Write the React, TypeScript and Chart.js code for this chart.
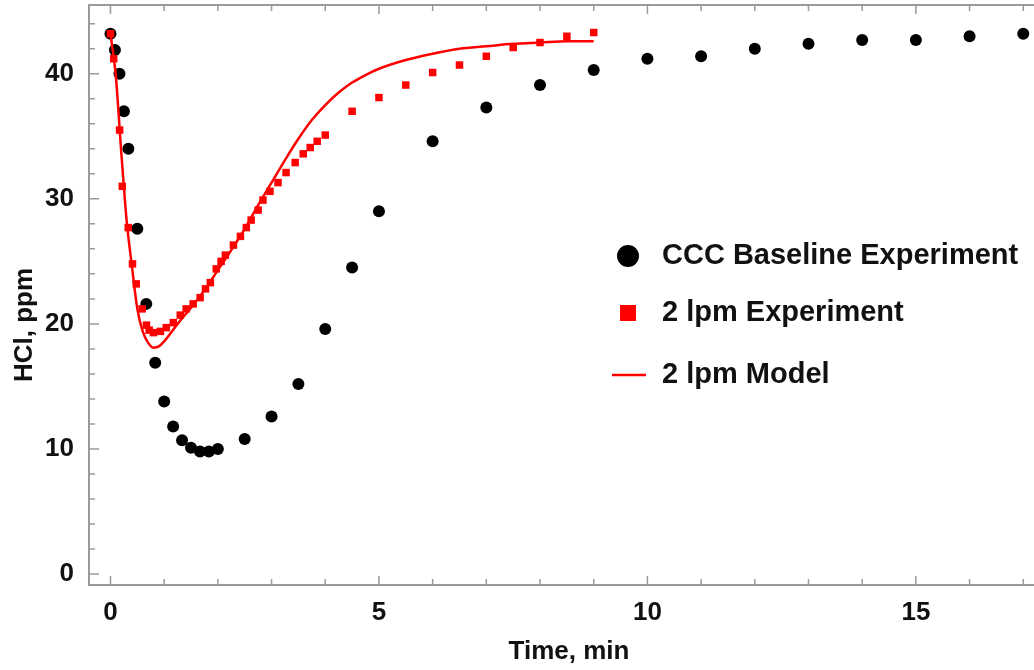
import React, { useEffect, useRef } from "react";
import { Chart, registerables } from "chart.js";

Chart.register(...registerables);

// ---- data ----
const baselineTime = [0, 0.083, 0.167, 0.25, 0.333, 0.5, 0.667, 0.833, 1, 1.167, 1.333, 1.5, 1.667, 1.833, 2, 2.5, 3, 3.5, 4, 4.5, 5, 6, 7, 8, 9, 10, 11, 12, 13, 14, 15, 16, 17];
const baselineHCl = [43.2, 41.9, 40.0, 37.0, 34.0, 27.6, 21.6, 16.9, 13.8, 11.8, 10.7, 10.1, 9.8, 9.8, 10.0, 10.8, 12.6, 15.2, 19.6, 24.5, 29.0, 34.6, 37.3, 39.1, 40.3, 41.2, 41.4, 42.0, 42.4, 42.7, 42.7, 43.0, 43.2];

const lpmTime = [0, 0.06, 0.17, 0.22, 0.33, 0.41, 0.48, 0.59, 0.67, 0.72, 0.8, 0.93, 1.04, 1.17, 1.3, 1.41, 1.54, 1.67, 1.77, 1.86, 1.97, 2.06, 2.14, 2.29, 2.42, 2.53, 2.62, 2.75, 2.84, 2.97, 3.12, 3.27, 3.44, 3.59, 3.72, 3.85, 4.0, 4.5, 5, 5.5, 6, 6.5, 7, 7.5, 8, 8.5, 9];
const lpmHCl = [43.2, 41.2, 35.5, 31.0, 27.7, 24.8, 23.2, 21.2, 19.9, 19.5, 19.3, 19.4, 19.7, 20.1, 20.7, 21.2, 21.6, 22.1, 22.8, 23.3, 24.4, 25.0, 25.5, 26.3, 27.0, 27.7, 28.3, 29.1, 29.9, 30.6, 31.3, 32.1, 32.9, 33.6, 34.1, 34.6, 35.1, 37.0, 38.1, 39.1, 40.1, 40.7, 41.4, 42.1, 42.5, 43.0, 43.3];

const modelTime = [0, 0.1, 0.2, 0.3, 0.4, 0.5, 0.6, 0.7, 0.8, 0.9, 1.0, 1.25, 1.5, 1.75, 2.0, 2.25, 2.5, 2.75, 3.0, 3.25, 3.5, 3.75, 4.0, 4.25, 4.5, 4.75, 5.0, 5.5, 6.0, 6.5, 7.0, 7.5, 8.0, 8.5, 9.0];
const modelHCl = [43.2, 39.8, 33.8, 28.3, 24.6, 21.2, 19.4, 18.5, 18.1, 18.2, 18.6, 20.0, 21.3, 22.7, 24.3, 25.9, 27.6, 29.5, 31.3, 33.1, 34.8, 36.3, 37.5, 38.5, 39.3, 39.9, 40.4, 41.1, 41.6, 42.0, 42.2, 42.4, 42.5, 42.6, 42.6];

const seriesLabels = ["CCC Baseline Experiment", "2 lpm Experiment", "2 lpm Model"];
const xTickValues = [0, 5, 10, 15];
const yTickValues = [0, 10, 20, 30, 40];
const xTitle = "Time, min";
const yTitle = "HCl, ppm";

// ---- styling ----
const FONT = '"Liberation Sans", Arial, sans-serif';
const TEXT = "#111111";
const FRAME = "#9a9a9a";
const RED = "#ff0000";

const chromePlugin = {
  id: "chrome",
  beforeDatasetsDraw(chart: any) {
    const { ctx, chartArea: a, scales } = chart;
    const xs = scales.x;
    const ys = scales.y;
    ctx.save();
    ctx.strokeStyle = FRAME;
    ctx.lineWidth = 2;
    ctx.beginPath();
    ctx.moveTo(a.right + 2, a.top);
    ctx.lineTo(a.left, a.top);
    ctx.lineTo(a.left, a.bottom);
    ctx.lineTo(a.right + 2, a.bottom);
    ctx.stroke();
    ctx.lineWidth = 1.5;
    ctx.beginPath();
    for (let v = Math.ceil(xs.min); v <= xs.max; v += 1) {
      const px = xs.getPixelForValue(v);
      const len = Math.abs(v % 5) === 0 ? 9 : 6;
      ctx.moveTo(px, a.bottom);
      ctx.lineTo(px, a.bottom - len);
      ctx.moveTo(px, a.top);
      ctx.lineTo(px, a.top + len);
    }
    for (let v = Math.ceil(ys.min / 2) * 2; v <= ys.max; v += 2) {
      const py = ys.getPixelForValue(v);
      const len = Math.abs(v % 10) === 0 ? 10 : 6;
      ctx.moveTo(a.left, py);
      ctx.lineTo(a.left + len, py);
    }
    ctx.stroke();
    ctx.restore();
  },
  afterDraw(chart: any) {
    const { ctx } = chart;
    ctx.save();
    // axis titles
    ctx.fillStyle = TEXT;
    ctx.font = `bold 26px ${FONT}`;
    ctx.textAlign = "center";
    ctx.textBaseline = "middle";
    ctx.fillText(xTitle, 569, 652);
    ctx.save();
    ctx.translate(25, 325);
    ctx.rotate(-Math.PI / 2);
    ctx.fillText(yTitle, 0, 0);
    ctx.restore();

    // legend
    const rows = [256, 313, 375];
    const markX = 628;
    const textX = 662;
    ctx.font = `bold 29px ${FONT}`;
    ctx.textAlign = "left";
    chart.data.datasets.forEach((ds: any, i: number) => {
      const y = rows[i];
      if (ds.showLine) {
        ctx.strokeStyle = ds.borderColor;
        ctx.lineWidth = 2.5;
        ctx.beginPath();
        ctx.moveTo(612, y);
        ctx.lineTo(646, y);
        ctx.stroke();
      } else if (ds.pointStyle === "rect") {
        ctx.fillStyle = ds.backgroundColor;
        ctx.fillRect(markX - 8, y - 8, 16, 16);
      } else {
        ctx.fillStyle = ds.backgroundColor;
        ctx.beginPath();
        ctx.arc(markX, y, 11, 0, Math.PI * 2);
        ctx.fill();
      }
      ctx.fillStyle = TEXT;
      ctx.fillText(ds.label, textX, y);
    });
    ctx.restore();
  },
};

const zeroPadding = (axis: any) => {
  axis.paddingTop = 0;
  axis.paddingBottom = 0;
  axis.paddingLeft = 0;
  axis.paddingRight = 0;
};

export default function App() {
  const ref = useRef<HTMLCanvasElement | null>(null);

  useEffect(() => {
    if (!ref.current) return;
    const chart = new Chart(ref.current, {
      type: "scatter",
      data: {
        datasets: [
          {
            label: seriesLabels[0],
            data: baselineTime.map((t, i) => ({ x: t, y: baselineHCl[i] })),
            pointStyle: "circle",
            pointRadius: 6,
            backgroundColor: "#000000",
            borderWidth: 0,
            showLine: false,
            order: 3,
          },
          {
            label: seriesLabels[1],
            data: lpmTime.map((t, i) => ({ x: t, y: lpmHCl[i] })),
            pointStyle: "rect",
            pointRadius: 5.3,
            backgroundColor: RED,
            borderWidth: 0,
            showLine: false,
            order: 2,
          },
          {
            label: seriesLabels[2],
            data: modelTime.map((t, i) => ({ x: t, y: modelHCl[i] })),
            showLine: true,
            pointRadius: 0,
            borderColor: RED,
            backgroundColor: RED,
            borderWidth: 2.5,
            cubicInterpolationMode: "monotone",
            order: 1,
          },
        ] as any,
      },
      options: {
        animation: false,
        responsive: false,
        devicePixelRatio: 1,
        layout: { autoPadding: false, padding: { top: 5, right: 0, left: 0, bottom: 0 } },
        plugins: {
          legend: { display: false },
          tooltip: { enabled: false },
          title: { display: false },
        },
        scales: {
          x: {
            type: "linear",
            min: -0.4,
            max: 17.2,
            grid: { display: false },
            border: { display: false },
            afterBuildTicks: (axis: any) => {
              axis.ticks = xTickValues.map((v) => ({ value: v }));
            },
            afterFit: (axis: any) => {
              axis.height = 85;
              zeroPadding(axis);
            },
            ticks: {
              padding: 4,
              maxRotation: 0,
              color: TEXT,
              font: { family: FONT, size: 26, weight: "bold" },
            },
          },
          y: {
            type: "linear",
            min: -0.88,
            max: 45.5,
            grid: { display: false },
            border: { display: false },
            afterBuildTicks: (axis: any) => {
              axis.ticks = yTickValues.map((v) => ({ value: v }));
            },
            afterFit: (axis: any) => {
              axis.width = 89;
              zeroPadding(axis);
            },
            ticks: {
              padding: 7,
              color: TEXT,
              font: { family: FONT, size: 26, weight: "bold" },
            },
          },
        },
      } as any,
      plugins: [chromePlugin],
    });
    return () => chart.destroy();
  }, []);

  return (
    <div style={{ position: "fixed", left: 0, top: 0, width: 1034, height: 670, background: "#ffffff" }}>
      <canvas ref={ref} width={1034} height={670} style={{ width: 1034, height: 670, display: "block" }} />
    </div>
  );
}
